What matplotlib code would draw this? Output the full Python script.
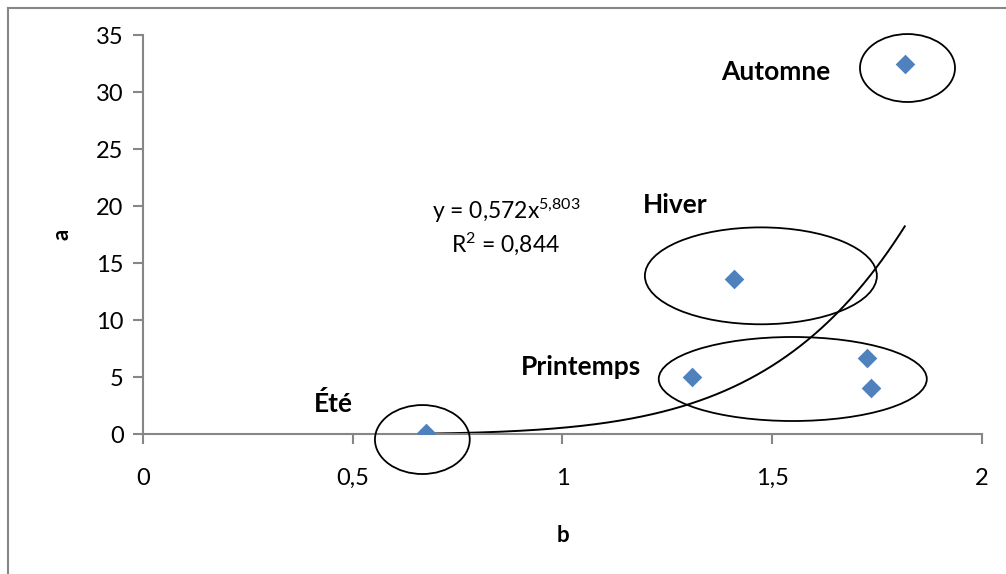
import numpy as np
import matplotlib.pyplot as plt
from matplotlib.patches import Ellipse
from matplotlib.lines import Line2D

plt.rcParams['font.family'] = ['Lato', 'DejaVu Sans']
plt.rcParams['mathtext.fontset'] = 'custom'
plt.rcParams['mathtext.rm'] = 'Lato'
plt.rcParams['mathtext.it'] = 'Lato'

# Observations (b, a)
b_vals = [0.675, 1.309, 1.725, 1.735, 1.409, 1.816]
a_vals = [0.1, 5.0, 6.67, 4.09, 13.6, 32.46]

# Power trend: a = coef * b ** expo
coef = 0.572
expo = 5.803
r2 = 0.844

x_ticks = [0, 0.5, 1, 1.5, 2]
x_tick_labels = ['0', '0,5', '1', '1,5', '2']
y_ticks = [0, 5, 10, 15, 20, 25, 30, 35]

# Season groups: label, ellipse centre (b, a), width, height, label position
seasons = ['Été', 'Printemps', 'Hiver', 'Automne']
ell_centres = [(0.666, -0.46), (1.549, 4.85), (1.473, 13.9), (1.8225, 32.13)]
ell_widths = [0.226, 0.639, 0.553, 0.2265]
ell_heights = [6.05, 7.37, 8.5, 5.96]
label_pos = [(0.453, 2.67), (1.044, 5.9), (1.268, 20.1), (1.509, 31.8)]

fig = plt.figure(figsize=(10.06, 5.74), dpi=100)
ax = fig.add_axes([0.1421, 0.2434, 0.834, 0.6951])

grey = '#868686'

# Outer chart frame
fig.add_artist(Line2D([8 / 1006, 8 / 1006], [0, 1 - 8 / 574], transform=fig.transFigure,
                      color=grey, lw=1.5))
fig.add_artist(Line2D([8 / 1006, 1], [1 - 8 / 574, 1 - 8 / 574], transform=fig.transFigure,
                      color=grey, lw=1.5))

# Trend line
xs = np.linspace(min(b_vals), max(b_vals), 400)
ax.plot(xs, coef * xs ** expo, color='black', lw=1.4, zorder=2)

# Points
ax.scatter(b_vals, a_vals, marker='D', s=100, color='#4F81BD', zorder=3, linewidths=0)

# Group ellipses and labels
for name, c, w, h, lp in zip(seasons, ell_centres, ell_widths, ell_heights, label_pos):
    ax.add_patch(Ellipse(c, w, h, fill=False, edgecolor='black', lw=1.3,
                         clip_on=False, zorder=4))
    ax.text(lp[0], lp[1], name, fontsize=19, fontweight='bold', ha='center', va='center')

# Equation
ax.text(0.865, 19.6, 'y = 0,572x$^{5{,}803}$', fontsize=16.5, ha='center', va='center')
ax.text(0.865, 16.7, 'R$^{2}$ = 0,844', fontsize=16.5, ha='center', va='center')

ax.set_xlim(0, 2)
ax.set_ylim(0, 35)
ax.set_xticks(x_ticks)
ax.set_xticklabels(x_tick_labels)
ax.set_yticks(y_ticks)

for s in ['top', 'right']:
    ax.spines[s].set_visible(False)
for s in ['left', 'bottom']:
    ax.spines[s].set_color(grey)
    ax.spines[s].set_linewidth(1.5)
ax.tick_params(axis='both', colors=grey, length=7, width=1.5, labelsize=17,
               labelcolor='black')
ax.tick_params(axis='x', pad=17)
ax.tick_params(axis='y', pad=7)

ax.set_xlabel('b', fontsize=16, fontweight='bold', labelpad=26)
ax.set_ylabel('a', fontsize=16, fontweight='bold', labelpad=17)

fig.savefig('out.png', dpi=100)
